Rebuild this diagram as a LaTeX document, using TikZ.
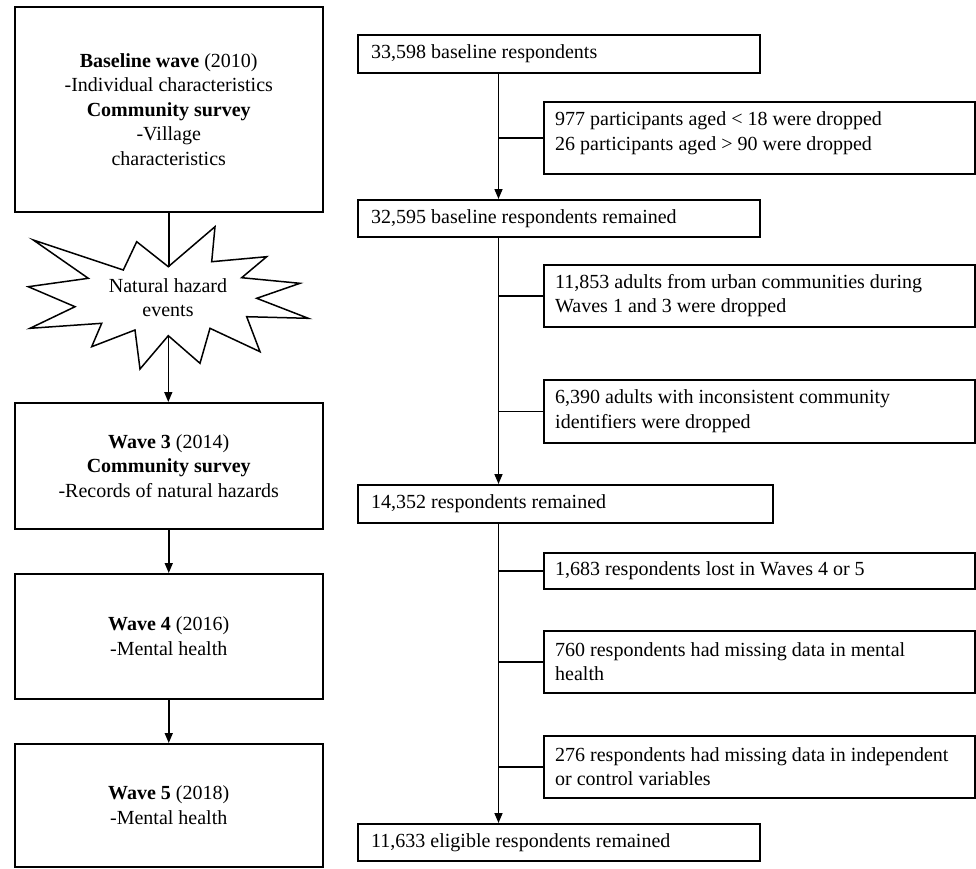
\documentclass[tikz,border=0pt]{standalone}
\usepackage{fontspec}
\setmainfont{Liberation Serif}
\usetikzlibrary{arrows.meta,calc}
\begin{document}
\begin{tikzpicture}[x=1pt,y=-1pt,
  every node/.style={font=\fontsize{20}{24.5}\selectfont},
  line/.style={line width=1.5pt, draw=black},
  arr/.style={line width=1.5pt, draw=black, -{Triangle[length=10pt,width=8pt]}},
  lbox/.style={draw, line width=1.5pt, minimum width=308pt, anchor=north west, inner sep=0pt, align=center},
  bbox/.style={draw, line width=1.5pt, anchor=north west, inner sep=0pt},
  btext/.style={anchor=west, inner sep=0pt, align=left},
]
\useasboundingbox (0,0) rectangle (976,868);

% left column
\node[lbox, minimum height=205pt] (L1) at (14,6) {\textbf{Baseline wave} (2010)\\-Individual characteristics\\\textbf{Community survey}\\-Village\\characteristics};
\node[lbox, minimum height=126pt] (L3) at (14,402) {\textbf{Wave 3} (2014)\\\textbf{Community survey}\\-Records of natural hazards};
\node[lbox, minimum height=125pt] (L4) at (14,573) {\textbf{Wave 4} (2016)\\-Mental health};
\node[lbox, minimum height=123pt] (L5) at (14,743) {\textbf{Wave 5} (2018)\\-Mental health};

% star
\draw[line width=1.5pt, fill=white] (168.3,266.7) coordinate (startop) -- (215,226.7) -- (211.7,261.7) -- (266.7,256.7) -- (241.7,277.7) -- (300,283.3) -- (256.7,298.3) -- (308.3,318.3) -- (246.7,316.7) -- (260,351.7) -- (210,328.3) -- (200,363.3) -- (168.3,335.7) coordinate (starbot) -- (140,369) -- (135,330) -- (91.7,346.7) -- (101.7,323.3) -- (30,328.3) -- (75,306.7) -- (28.3,286.7) -- (88.3,278.3) -- (33.3,240) -- (123.3,270) -- (136.7,241.7) -- cycle;
\node[align=center, inner sep=0pt] (star) at (168,297.5) {Natural hazard\\events};

\draw[line] (L1.south) -- (L1.south |- startop);
\draw[arr] (starbot) -- (starbot |- L3.north);
\draw[arr] (L3.south) -- (L4.north);
\draw[arr] (L4.south) -- (L5.north);

% right column
\coordinate (trunk) at (498.5,0);
\node[bbox, minimum width=402pt, minimum height=38pt] (A) at (357,34) {};
\node[btext] (At) at ($(A.west)+(14,0)$) {33,598 baseline respondents};

\node[bbox, minimum width=431pt, minimum height=72pt] (B) at (543,101) {};
\node[btext] (Bt) at ($(B.west)+(12,-4.5)$) {977 participants aged < 18 were dropped\\26 participants aged > 90 were dropped};

\node[bbox, minimum width=402pt, minimum height=37pt] (C) at (357,199) {};
\node[btext] (Ct) at ($(C.west)+(14,0)$) {32,595 baseline respondents remained};

\node[bbox, minimum width=431pt, minimum height=62pt] (D) at (543,264) {};
\node[btext] (Dt) at ($(D.west)+(12,0)$) {11,853 adults from urban communities during\\Waves 1 and 3 were dropped};

\node[bbox, minimum width=431pt, minimum height=63pt] (E) at (543,379) {};
\node[btext] (Et) at ($(E.west)+(12,0)$) {6,390 adults with inconsistent community\\identifiers were dropped};

\node[bbox, minimum width=415pt, minimum height=38pt] (F) at (357,484) {};
\node[btext] (Ft) at ($(F.west)+(14,0)$) {14,352 respondents remained};

\node[bbox, minimum width=431pt, minimum height=36pt] (G) at (543,552) {};
\node[btext] (Gt) at ($(G.west)+(12,0)$) {1,683 respondents lost in Waves 4 or 5};

\node[bbox, minimum width=431pt, minimum height=62pt] (H) at (543,630) {};
\node[btext] (Ht) at ($(H.west)+(12,0)$) {760 respondents had missing data in mental\\health};

\node[bbox, minimum width=431pt, minimum height=62pt] (I) at (543,735) {};
\node[btext] (It) at ($(I.west)+(12,0)$) {276 respondents had missing data in independent\\or control variables};

\node[bbox, minimum width=402pt, minimum height=37pt] (J) at (357,823) {};
\node[btext] (Jt) at ($(J.west)+(14,0)$) {11,633 eligible respondents remained};

% connectors
\draw[arr] (A.south -| trunk) -- (C.north -| trunk);
\draw[line] (B.west) -- (B.west -| trunk);
\draw[arr] (C.south -| trunk) -- (F.north -| trunk);
\draw[line] (D.west) -- (D.west -| trunk);
\draw[line] (E.west) -- (E.west -| trunk);
\draw[arr] (F.south -| trunk) -- (J.north -| trunk);
\draw[line] (G.west) -- (G.west -| trunk);
\draw[line] (H.west) -- (H.west -| trunk);
\draw[line] (I.west) -- (I.west -| trunk);
\end{tikzpicture}
\end{document}
